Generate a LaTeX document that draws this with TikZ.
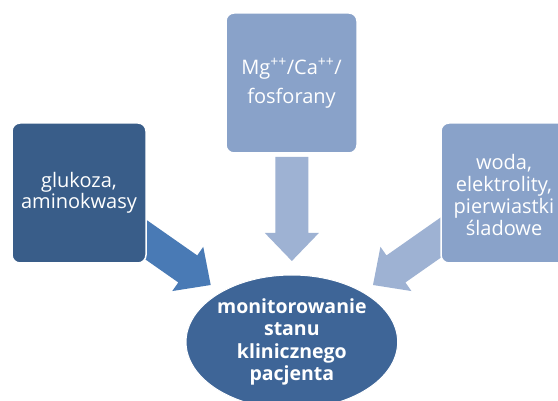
\documentclass[tikz,border=0pt]{standalone}
\usepackage{fontspec}
\setmainfont{Open Sans}
\usetikzlibrary{shapes.geometric}
\definecolor{darkbox}{RGB}{57,93,137}
\definecolor{ellcol}{RGB}{62,101,151}
\definecolor{midarrow}{RGB}{73,122,181}
\definecolor{lightbox}{RGB}{137,162,201}
\definecolor{lightarrow}{RGB}{158,178,211}
\newcommand{\blockarrowpath}[1]{(0,0) -- (-28,27) -- (-28,16.5) -- (-#1,16.5) -- (-#1,-16.5) -- (-28,-16.5) -- (-28,-27) -- cycle}
\tikzset{
  box/.style={rounded corners=8pt, draw=white, line width=1.5pt, minimum width=134pt, minimum height=140pt, inner sep=0pt, text=white, align=center},
  boxtext/.style={text=white, align=center, inner sep=0pt, font=\fontsize{20}{21.8}\selectfont},
  ellbox/.style={ellipse, fill=ellcol, draw=white, line width=1pt, minimum width=211.6pt, minimum height=134pt, inner sep=0pt, text=white, align=center, font=\bfseries\fontsize{19.5}{22.2}\selectfont}
}
\begin{document}
\begin{tikzpicture}[x=1pt,y=-1pt]
\useasboundingbox (0,0) rectangle (558,401);
\clip (0,0) rectangle (558,401);
\fill[white] (0,0) rectangle (558,401);
% arrows
\begin{scope}[shift={(210.7,285)}, rotate=-35]
  \fill[midarrow] \blockarrowpath{103};
\end{scope}
\begin{scope}[shift={(373,285)}, rotate=-145]
  \fill[lightarrow] \blockarrowpath{103};
\end{scope}
\begin{scope}[shift={(291.85,261)}, rotate=-90]
  \fill[lightarrow] \blockarrowpath{104};
\end{scope}
% boxes
\node[box, fill=darkbox, font=\fontsize{20}{21}\selectfont] (lewy) at (79,193) {glukoza,\\aminokwasy};
\node[box, fill=lightbox, minimum width=131pt, font=\fontsize{20}{29}\selectfont] (gorny) at (291.5,83) {Mg\textsuperscript{++}/Ca\textsuperscript{++}/\\fosforany};
\node[box, fill=lightbox] (prawy) at (508,193) {};
\node[boxtext] (prawytekst) at (504,195) {woda,\\elektrolity,\\pierwiastki\\śladowe};
% ellipse
\node[ellbox] (srodek) at (291.85,342) {monitorowanie\\stanu\\klinicznego\\pacjenta};
\end{tikzpicture}
\end{document}
